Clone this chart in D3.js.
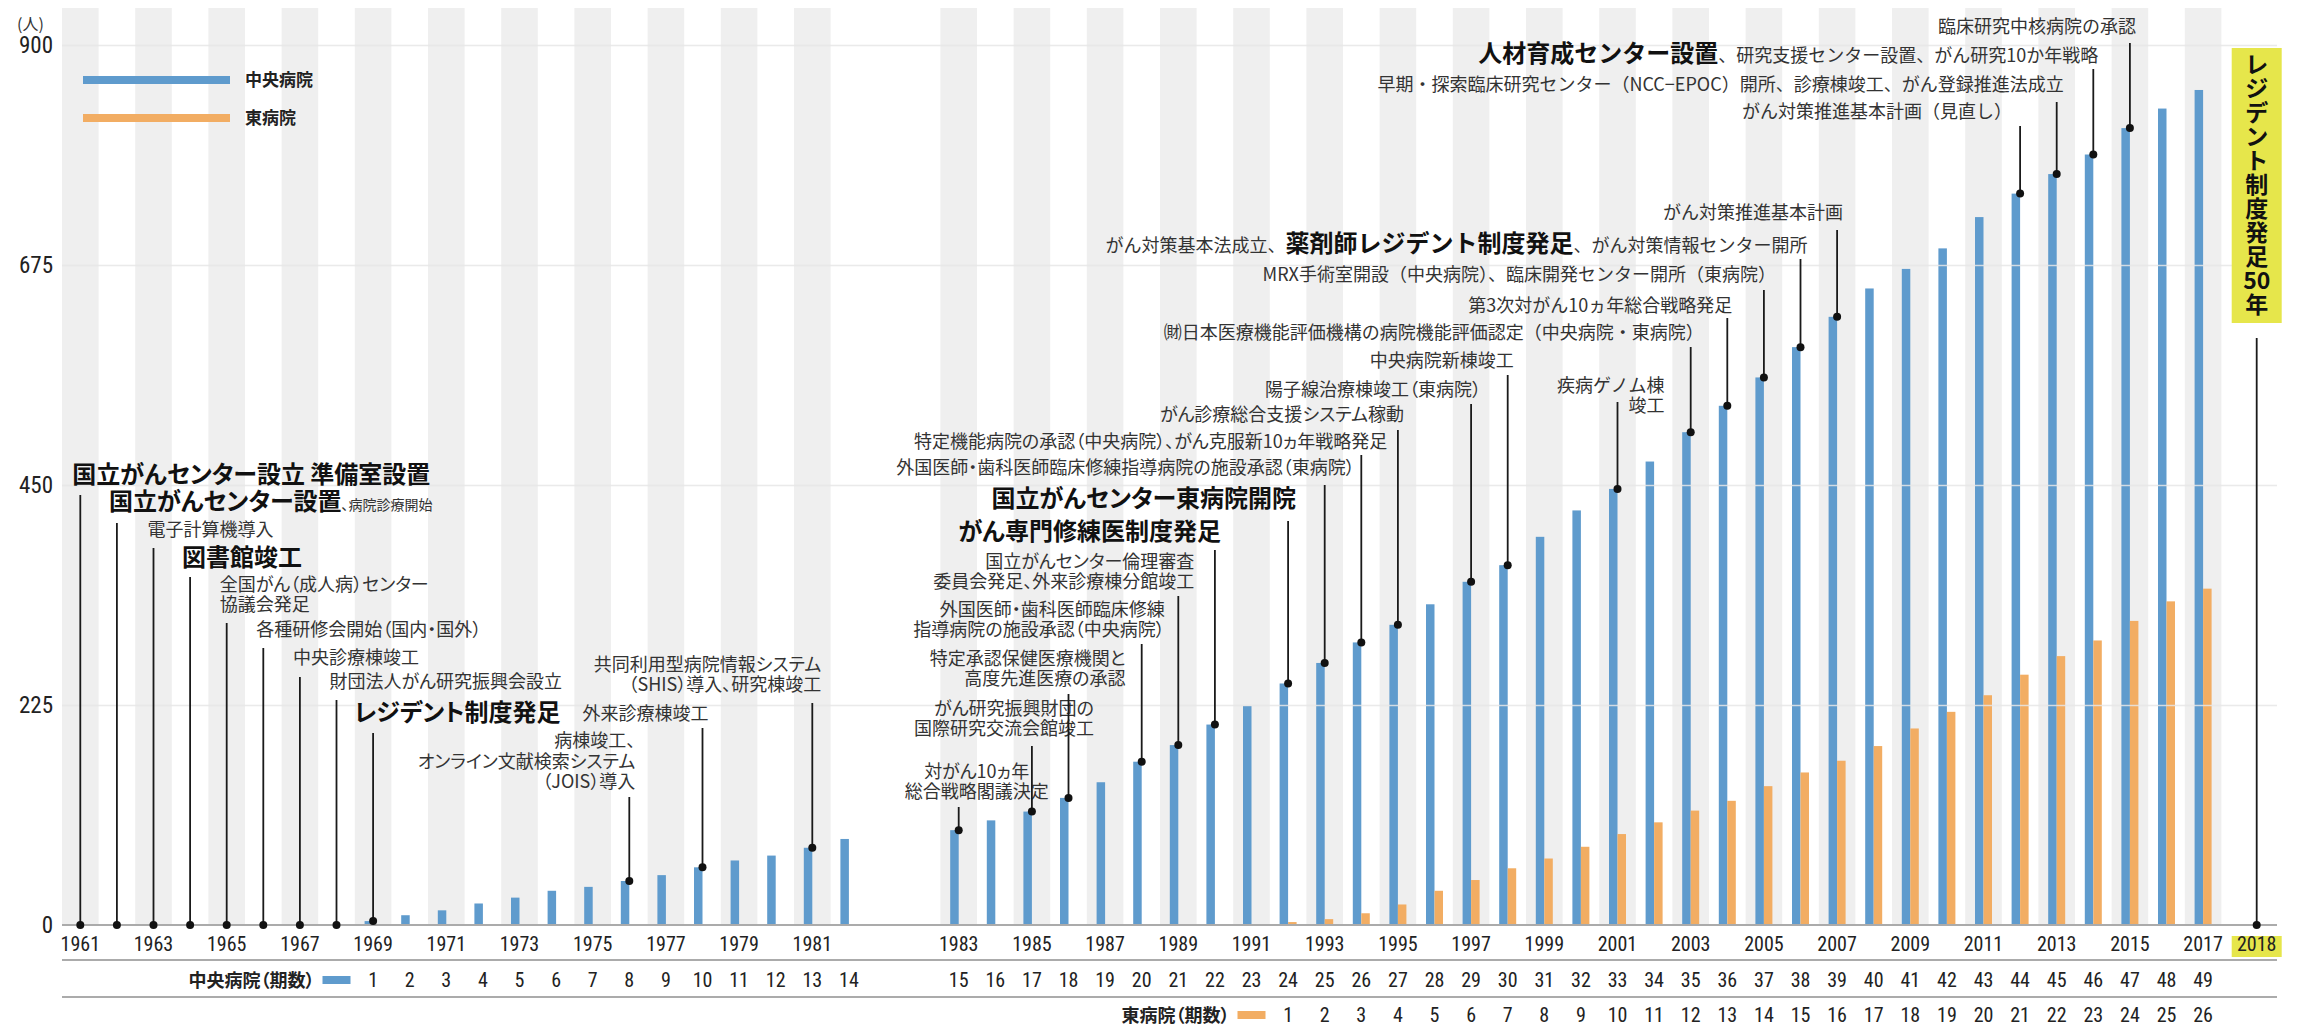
<!DOCTYPE html>
<html>
<head>
<meta charset="utf-8">
<script src="https://cdn.jsdelivr.net/npm/d3@7"></script>
<style>
  body { margin: 0; background: #fff; }
  svg text { font-family: "Noto Sans CJK JP", "Noto Sans", sans-serif; }
  svg .num { font-family: "Liberation Sans Narrow", "Roboto Condensed", "Noto Sans", sans-serif; }
  svg .palt { font-feature-settings: "palt"; }
</style>
</head>
<body>
<div id="chart"></div>
<script>
// x categories (two empty slots between 1982 and 1983)
const categories = [
  "1961", "1962", "1963", "1964", "1965", "1966", "1967", "1968", "1969", "1970",
  "1971", "1972", "1973", "1974", "1975", "1976", "1977", "1978", "1979", "1980",
  "1981", "1982", " ", "  ",
  "1983", "1984", "1985", "1986", "1987", "1988", "1989", "1990", "1991", "1992",
  "1993", "1994", "1995", "1996", "1997", "1998", "1999", "2000", "2001", "2002",
  "2003", "2004", "2005", "2006", "2007", "2008", "2009", "2010", "2011", "2012",
  "2013", "2014", "2015", "2016", "2017", "2018"
]
const xTickYears = [
  "1961", "1963", "1965", "1967", "1969", "1971", "1973", "1975", "1977", "1979", "1981",
  "1983", "1985", "1987", "1989", "1991", "1993", "1995", "1997", "1999", "2001",
  "2003", "2005", "2007", "2009", "2011", "2013", "2015", "2017", "2018"
]
const highlightYear = "2018"

// 中央病院 residents (cumulative), 1969..2017
const centralYears = [
  "1969", "1970", "1971", "1972", "1973", "1974", "1975", "1976", "1977", "1978",
  "1979", "1980", "1981", "1982", "1983", "1984", "1985", "1986", "1987", "1988",
  "1989", "1990", "1991", "1992", "1993", "1994", "1995", "1996", "1997", "1998",
  "1999", "2000", "2001", "2002", "2003", "2004", "2005", "2006", "2007", "2008",
  "2009", "2010", "2011", "2012", "2013", "2014", "2015", "2016", "2017"
]
const centralValues = [
  4, 10, 15, 22, 28, 35, 39, 45, 51, 59,
  66, 71, 79, 88, 97, 107, 116, 130, 146, 167,
  184, 205, 224, 247, 268, 289, 307, 328, 351, 368,
  397, 424, 446, 474, 504, 531, 560, 591, 622, 651,
  671, 692, 724, 748, 768, 788, 815, 835, 854
]
const centralTerms = [
  1, 2, 3, 4, 5, 6, 7, 8, 9, 10, 11, 12, 13, 14, 15, 16, 17, 18, 19, 20,
  21, 22, 23, 24, 25, 26, 27, 28, 29, 30, 31, 32, 33, 34, 35, 36, 37, 38, 39, 40,
  41, 42, 43, 44, 45, 46, 47, 48, 49
]

// 東病院 residents (cumulative), 1992..2017
const eastYears = [
  "1992", "1993", "1994", "1995", "1996", "1997", "1998", "1999", "2000", "2001",
  "2002", "2003", "2004", "2005", "2006", "2007", "2008", "2009", "2010", "2011",
  "2012", "2013", "2014", "2015", "2016", "2017"
]
const eastValues = [
  3, 6, 12, 21, 35, 46, 58, 68, 80, 93,
  105, 117, 127, 142, 156, 168, 183, 201, 218, 235,
  256, 275, 291, 311, 331, 344
]
const eastTerms = [
  1, 2, 3, 4, 5, 6, 7, 8, 9, 10, 11, 12, 13, 14, 15, 16, 17, 18, 19, 20,
  21, 22, 23, 24, 25, 26
]

const yTicks = [0, 225, 450, 675, 900]
const seriesNames = ["中央病院", "東病院"]

// events (** = bold, ~~ = small)
const noteYears = [
  "1961", "1962", "1963", "1964", "1965", "1966", "1967", "1968", "1969",
  "1976", "1978", "1981",
  "1983", "1985", "1986", "1988", "1989", "1990", "1992", "1993", "1994", "1995",
  "1997", "1998", "2001", "2003", "2004", "2005", "2006", "2007",
  "2012", "2013", "2014", "2015"
]
const noteTexts = [
  "**国立がんセンター設立 準備室設置**",
  "**国立がんセンター設置**~~、病院診療開始~~",
  "電子計算機導入",
  "**図書館竣工**",
  "全国がん（成人病）センター\n協議会発足",
  "各種研修会開始（国内・国外）",
  "中央診療棟竣工",
  "財団法人がん研究振興会設立",
  "**レジデント制度発足**",
  "病棟竣工、\nオンライン文献検索システム\n（JOIS）導入",
  "外来診療棟竣工",
  "共同利用型病院情報システム\n（SHIS）導入、研究棟竣工",
  "対がん10ヵ年\n総合戦略閣議決定",
  "がん研究振興財団の\n国際研究交流会館竣工",
  "特定承認保健医療機関と\n高度先進医療の承認",
  "外国医師・歯科医師臨床修練\n指導病院の施設承認（中央病院）",
  "国立がんセンター倫理審査\n委員会発足、外来診療棟分館竣工",
  "**がん専門修練医制度発足**",
  "**国立がんセンター東病院開院**",
  "外国医師・歯科医師臨床修練指導病院の施設承認（東病院）",
  "特定機能病院の承認（中央病院）、がん克服新10ヵ年戦略発足",
  "がん診療総合支援システム稼動",
  "陽子線治療棟竣工（東病院）",
  "中央病院新棟竣工",
  "疾病ゲノム棟\n竣工",
  "㈶日本医療機能評価機構の病院機能評価認定（中央病院・東病院）",
  "第3次対がん10ヵ年総合戦略発足",
  "MRX手術室開設（中央病院）、臨床開発センター開所（東病院）",
  "がん対策基本法成立、**薬剤師レジデント制度発足**、がん対策情報センター開所",
  "がん対策推進基本計画",
  "がん対策推進基本計画（見直し）",
  "早期・探索臨床研究センター（NCC−EPOC）開所、診療棟竣工、がん登録推進法成立",
  "**人材育成センター設置**、研究支援センター設置、がん研究10か年戦略",
  "臨床研究中核病院の承認"
]
const bannerText = ["レ", "ジ", "デ", "ン", "ト", "制", "度", "発", "足", "50", "年"]

// label placement: [leader top px, last baseline px, anchor, dx from category centre]
const noteLayout = {
  "1961": [495, 483, "start", -8], "1962": [523, 510, "start", -8],
  "1963": [548, 536, "start", -6], "1964": [577, 566, "start", -8],
  "1965": [623, 611, "start", -7], "1966": [648, 636, "start", -7],
  "1967": [677, 664, "start", -7], "1968": [700, 688, "start", -7],
  "1969": [733, 721, "start", -19], "1976": [797, 788, "end", 6],
  "1978": [728, 720, "end", 6], "1981": [703, 691, "end", 9],
  "1983": [807, 798, "middle", 18], "1985": [746, 735, "end", 62],
  "1986": [694, 685, "end", 57], "1988": [644, 636, "end", 23],
  "1989": [596, 588, "end", 16], "1990": [550, 540, "end", 6],
  "1992": [521, 507, "end", 8], "1993": [485, 474, "end", 30],
  "1994": [455, 448, "end", 26], "1995": [430, 421, "end", 6],
  "1997": [404, 396, "end", 10], "1998": [375, 367, "end", 6],
  "2001": [402, 412, "end", 47], "2003": [347, 339, "end", 13],
  "2004": [318, 312, "end", 5], "2005": [290, 281, "end", 12],
  "2006": [259, 252, "end", 7], "2007": [230, 219, "end", 6],
  "2012": [126, 118, "end", -8], "2013": [102, 91, "end", 7],
  "2014": [69, 62, "end", 5], "2015": [43, 33, "end", 6]
}

const colors = { "中央病院": "#5f9bcd", "東病院": "#f2ad63" }
const plotLeft = 62, plotRight = 2277, slot = 36.6
const lastShift = 17   // the 2018 column sits a little further right

let svg = d3.select("#chart")
  .append("svg")
  .attr("width", 2311)
  .attr("height", 1030)

let x = d3.scaleBand()
  .domain(categories)
  .range([plotLeft, plotLeft + slot * categories.length])
let bw = x.bandwidth()
let cx = (c) => x(c) + bw / 2 + (c === highlightYear ? lastShift : 0)

let y = d3.scaleLinear()
  .domain([0, 900])
  .range([925, 45])

let sub = d3.scaleBand()
  .domain(seriesNames)
  .range([-8.5, 8.5])

// background stripes every other year
svg.append("g")
  .selectAll("rect")
  .data(categories.filter((c, i) => i % 2 === 0 && c.trim() !== ""))
  .enter()
  .append("rect")
  .attr("x", (d) => x(d))
  .attr("y", 8)
  .attr("width", bw)
  .attr("height", y(0) - 8)
  .attr("fill", "#efefef")

// bars
let barData = centralYears.map((yr, i) => ({ year: yr, name: "中央病院", value: centralValues[i] }))
  .concat(eastYears.map((yr, i) => ({ year: yr, name: "東病院", value: eastValues[i] })))

svg.append("g")
  .selectAll("rect")
  .data(barData)
  .enter()
  .append("rect")
  .attr("x", (d) => cx(d.year) + sub(d.name))
  .attr("y", (d) => y(d.value))
  .attr("width", sub.bandwidth())
  .attr("height", (d) => y(0) - y(d.value))
  .attr("fill", (d) => colors[d.name])

// gridlines + y labels
let yAxis = svg.append("g")
  .attr("transform", "translate(" + plotLeft + ",0)")
  .call(d3.axisLeft(y).tickValues(yTicks).tickSize(-(plotRight - plotLeft)).tickPadding(9))
yAxis.select(".domain").remove()
yAxis.selectAll(".tick line")
  .attr("stroke", (d) => d === 0 ? "none" : "#e6e6e6")
  .attr("stroke-opacity", 0.85)
  .attr("stroke-width", 1.6)
yAxis.selectAll(".tick text")
  .attr("class", "num")
  .style("font-size", "23px")
  .attr("fill", "#222")

svg.append("text")
  .attr("x", 17)
  .attr("y", 30)
  .style("font-size", "16px")
  .attr("fill", "#333")
  .text("(人)")

// baseline and table rules
let rules = [y(0), 960, 997]
svg.append("g")
  .selectAll("line")
  .data(rules)
  .enter()
  .append("line")
  .attr("x1", plotLeft)
  .attr("x2", plotRight)
  .attr("y1", (d) => d)
  .attr("y2", (d) => d)
  .attr("stroke", "#ababab")
  .attr("stroke-width", 2)

// x axis
svg.append("rect")
  .attr("x", cx(highlightYear) - 25)
  .attr("y", 936)
  .attr("width", 50)
  .attr("height", 21)
  .attr("fill", "#e6e64b")

let xAxis = svg.append("g")
  .attr("transform", "translate(0," + y(0) + ")")
  .call(d3.axisBottom(x).tickValues(xTickYears).tickSize(0).tickPadding(12))
xAxis.select(".domain").remove()
xAxis.selectAll(".tick")
  .filter((d) => d === highlightYear)
  .attr("transform", "translate(" + cx(highlightYear) + ",0)")
xAxis.selectAll(".tick text")
  .attr("class", "num")
  .style("font-size", "20px")
  .attr("fill", "#222")

// term rows
let rowDefs = [
  { name: "中央病院", label: "中央病院（期数）", years: centralYears, terms: centralTerms, base: 987 },
  { name: "東病院", label: "東病院（期数）", years: eastYears, terms: eastTerms, base: 1022 }
]
rowDefs.forEach((row) => {
  let g = svg.append("g")
  let prev = categories[categories.indexOf(row.years[0]) - 1]
  g.append("rect")
    .attr("x", cx(prev) - 14)
    .attr("y", row.base - 11)
    .attr("width", 28)
    .attr("height", 8)
    .attr("fill", colors[row.name])
  g.append("text")
    .attr("class", "palt")
    .attr("x", cx(prev) - 22)
    .attr("y", row.base)
    .attr("text-anchor", "end")
    .style("font-size", "18px")
    .style("font-weight", "bold")
    .attr("fill", "#222")
    .text(row.label)
  g.selectAll(".term")
    .data(row.terms)
    .enter()
    .append("text")
    .attr("class", "num")
    .attr("x", (d, i) => cx(row.years[i]))
    .attr("y", row.base)
    .attr("text-anchor", "middle")
    .style("font-size", "20px")
    .attr("fill", "#222")
    .text((d) => d)
})

// legend
let legend = svg.append("g")
seriesNames.forEach((name, i) => {
  legend.append("line")
    .attr("x1", 83).attr("x2", 230)
    .attr("y1", 80 + i * 38).attr("y2", 80 + i * 38)
    .attr("stroke", colors[name])
    .attr("stroke-width", 8)
  legend.append("text")
    .attr("x", 245)
    .attr("y", 86 + i * 38)
    .style("font-size", "17px")
    .style("font-weight", "bold")
    .attr("fill", "#222")
    .text(name)
})

// event notes
let valueAt = (yr) => {
  let i = centralYears.indexOf(yr)
  return i < 0 ? 0 : centralValues[i]
}
let notes = svg.append("g")
noteYears.forEach((yr, i) => {
  let [top, base, anchor, dx] = noteLayout[yr]
  let px = cx(yr)
  notes.append("line")
    .attr("x1", px).attr("x2", px)
    .attr("y1", y(valueAt(yr))).attr("y2", top)
    .attr("stroke", "#1a1a1a")
    .attr("stroke-width", 1.8)
  notes.append("circle")
    .attr("cx", px)
    .attr("cy", y(valueAt(yr)))
    .attr("r", 4)
    .attr("fill", "#111")
  let lines = noteTexts[i].split("\n")
  lines.forEach((ln, k) => {
    let t = notes.append("text")
      .attr("class", +yr < 2000 ? "palt" : null)
      .attr("x", px + dx)
      .attr("y", base - (lines.length - 1 - k) * 20.5)
      .attr("text-anchor", anchor)
      .style("font-size", "18px")
      .attr("fill", "#333")
    ln.split(/(\*\*[^*]+\*\*|~~[^~]+~~)/).filter((s) => s).forEach((seg) => {
      let s = t.append("tspan")
      if (seg.startsWith("**")) {
        s.text(seg.slice(2, -2)).style("font-size", "24px").style("font-weight", "bold").attr("fill", "#111")
      } else if (seg.startsWith("~~")) {
        s.text(seg.slice(2, -2)).style("font-size", "14px")
      } else {
        s.text(seg)
      }
    })
  })
})

// 2018 banner
let hx = cx(highlightYear)
notes.append("line")
  .attr("x1", hx).attr("x2", hx)
  .attr("y1", y(0)).attr("y2", 338)
  .attr("stroke", "#1a1a1a")
  .attr("stroke-width", 1.8)
notes.append("circle")
  .attr("cx", hx).attr("cy", y(0)).attr("r", 4).attr("fill", "#111")
svg.append("rect")
  .attr("x", hx - 25)
  .attr("y", 48)
  .attr("width", 50)
  .attr("height", 275)
  .attr("fill", "#e6e64b")
svg.append("g")
  .selectAll("text")
  .data(bannerText)
  .enter()
  .append("text")
  .attr("x", hx)
  .attr("y", (d, i) => 73 + i * 24)
  .attr("text-anchor", "middle")
  .style("font-size", "23px")
  .style("font-weight", "bold")
  .attr("fill", "#111")
  .text((d) => d)
</script>
</body>
</html>
